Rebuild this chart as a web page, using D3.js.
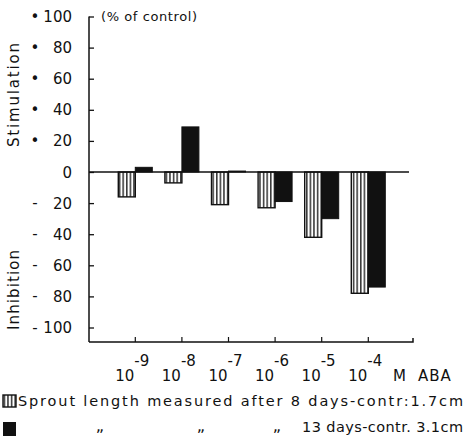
<!doctype html>
<html>
  <head>
    <script src="https://cdn.jsdelivr.net/npm/d3@7"></script>
    <style>
      body { margin: 0; background: #fff; }
      text { font-family: "DejaVu Sans", sans-serif; fill: #111; }
    </style>
  </head>
  <body>
    <script>
      var w_svg = 465;
      var h_svg = 437;

      // data
      var exponents = ["-9", "-8", "-7", "-6", "-5", "-4"];
      var sprout8 = [-16, -7, -21, -23, -42, -78];   // hatched, 8 days
      var sprout13 = [3, 29, 0.6, -19, -30, -74];     // black, 13 days
      var yTicks = [100, 80, 60, 40, 20, 0, -20, -40, -60, -80, -100];

      var svg = d3.select("body").append("svg")
                  .attr("width", w_svg)
                  .attr("height", h_svg);

      var defs = svg.append("defs");
      var pat = defs.append("pattern")
                    .attr("id", "hatch")
                    .attr("patternUnits", "userSpaceOnUse")
                    .attr("width", 3.6).attr("height", 10);
      pat.append("rect").attr("width", 3.6).attr("height", 10).attr("fill", "#fff");
      pat.append("line").attr("x1", 0.8).attr("x2", 0.8).attr("y1", 0).attr("y2", 10)
         .attr("stroke", "#111").attr("stroke-width", 1.3);

      var y = d3.scaleLinear().domain([-100, 100]).range([327.5, 16.5]);
      var x = d3.scaleBand().domain(exponents).range([112, 391.6]);
      var xMid = function(d) { return x(d) + x.bandwidth() / 2; };
      var barW = 17;

      // y axis with inward ticks
      svg.append("g")
         .attr("transform", "translate(89,0)")
         .call(d3.axisLeft(y).tickValues(yTicks).tickSize(-5).tickFormat(""))
         .call(function(g) {
           g.select(".domain").remove();
           g.selectAll("line").attr("stroke", "#111").attr("stroke-width", 1.3);
         });
      svg.append("line").attr("x1", 89).attr("x2", 89)
         .attr("y1", y(100)).attr("y2", 342)
         .attr("stroke", "#111").attr("stroke-width", 1.5);

      // bottom axis with upward ticks
      svg.append("g")
         .attr("transform", "translate(0,342)")
         .call(d3.axisBottom(x).tickSize(-5).tickFormat(""))
         .call(function(g) {
           g.select(".domain").remove();
           g.selectAll("line").attr("stroke", "#111").attr("stroke-width", 1.2);
         });
      svg.append("path")
         .attr("d", "M89,342H413V338")
         .attr("fill", "none").attr("stroke", "#111").attr("stroke-width", 1.5);

      // y tick labels
      var lab = svg.append("g").attr("font-size", 15);
      lab.selectAll(".num").data(yTicks).enter().append("text")
         .attr("x", 72).attr("y", function(d) { return y(d) + 5.5; })
         .attr("text-anchor", "end")
         .text(function(d) { return Math.abs(d); });
      lab.selectAll(".sign").data(yTicks.filter(function(d) { return d != 0; }))
         .enter().append("text")
         .attr("x", 35).attr("y", function(d) { return y(d) + 5; })
         .attr("text-anchor", "middle")
         .text(function(d) { return d > 0 ? "\u2022" : "-"; });

      svg.append("text").attr("x", 101).attr("y", 21).attr("font-size", 13)
         .attr("textLength", 96).attr("lengthAdjust", "spacing")
         .text("(% of control)");

      svg.append("text").attr("transform", "translate(19,95) rotate(-90)")
         .attr("text-anchor", "middle").attr("font-size", 15)
         .attr("textLength", 104).attr("lengthAdjust", "spacing")
         .text("Stimulation");
      svg.append("text").attr("transform", "translate(19,290) rotate(-90)")
         .attr("text-anchor", "middle").attr("font-size", 15)
         .attr("textLength", 80).attr("lengthAdjust", "spacing")
         .text("Inhibition");

      // bars
      svg.selectAll(".b8").data(exponents).enter().append("rect")
         .attr("x", function(d) { return xMid(d) - barW; })
         .attr("y", function(d, i) { return y(Math.max(0, sprout8[i])); })
         .attr("width", barW)
         .attr("height", function(d, i) { return Math.abs(y(sprout8[i]) - y(0)); })
         .attr("fill", "url(#hatch)").attr("stroke", "#111").attr("stroke-width", 1.4);
      svg.selectAll(".b13").data(exponents).enter().append("rect")
         .attr("x", function(d) { return xMid(d); })
         .attr("y", function(d, i) { return y(Math.max(0, sprout13[i])); })
         .attr("width", barW)
         .attr("height", function(d, i) { return Math.abs(y(sprout13[i]) - y(0)); })
         .attr("fill", "#111").attr("stroke", "#111").attr("stroke-width", 1);

      // zero line
      svg.append("line").attr("x1", 89).attr("x2", 409)
         .attr("y1", y(0)).attr("y2", y(0))
         .attr("stroke", "#111").attr("stroke-width", 1.5);

      // x labels: 10^exp
      var xl = svg.append("g").attr("font-size", 15);
      xl.selectAll(".ten").data(exponents).enter().append("text")
        .attr("x", function(d) { return xMid(d) - 1; }).attr("y", 381)
        .attr("text-anchor", "end").text("10");
      xl.selectAll(".exp").data(exponents).enter().append("text")
        .attr("x", function(d) { return xMid(d) - 1; }).attr("y", 366)
        .text(function(d) { return d; });
      xl.append("text").attr("x", 393).attr("y", 381)
        .text("M");
      xl.append("text").attr("x", 418).attr("y", 381)
        .attr("letter-spacing", 1).text("ABA");

      // legend
      svg.append("rect").attr("x", 3).attr("y", 395).attr("width", 13).attr("height", 12)
         .attr("fill", "url(#hatch)").attr("stroke", "#111").attr("stroke-width", 1.4);
      svg.append("rect").attr("x", 3).attr("y", 422).attr("width", 13).attr("height", 14)
         .attr("fill", "#111");
      svg.append("text").attr("x", 18).attr("y", 406).attr("font-size", 14.5)
         .attr("textLength", 445).attr("lengthAdjust", "spacing")
         .text("Sprout length measured after 8 days-contr:1.7cm");
      svg.append("text").attr("x", 302).attr("y", 432).attr("font-size", 14.5)
         .attr("textLength", 161).attr("lengthAdjust", "spacing")
         .text("13 days-contr. 3.1cm");
      svg.selectAll(".ditto").data([100, 201, 277]).enter().append("text")
         .attr("x", function(d) { return d; }).attr("y", 431)
         .attr("font-size", 16).attr("text-anchor", "middle")
         .text("\u201E");
    </script>
  </body>
</html>
